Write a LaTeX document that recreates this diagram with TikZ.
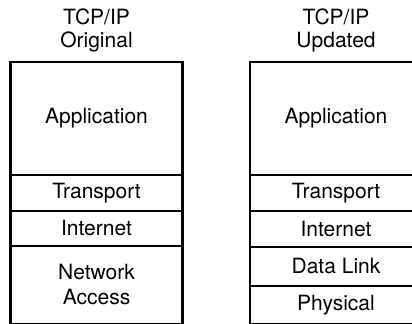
\documentclass[tikz,border=0pt]{standalone}
\usepackage{fontspec}
\setmainfont{TeX Gyre Heros}

\begin{document}
\begin{tikzpicture}[x=0.5pt,y=-0.5pt,
  layer/.style={shape=rectangle,draw=black,line width=1.1pt,outer sep=0pt,inner sep=0pt,
    minimum width=86pt,align=center,font=\fontsize{10.5}{12.5}\selectfont},
  stacktitle/.style={anchor=south,inner sep=0pt,align=center,font=\fontsize{10.5}{11.5}\selectfont}]
\useasboundingbox (0,0) rectangle (412,324);

\node[layer,minimum height=56.5pt] (lapp) at (96.5,118.5) {Application};
\node[layer,minimum height=18pt] (ltrans) at (96.5,193) {Transport};
\node[layer,minimum height=17.5pt] (linet) at (96.5,228.5) {Internet};
\node[layer,minimum height=39pt] (lnet) at (96.5,285) {Network\\Access};

\node[layer,minimum height=56.5pt] (rapp) at (336,118.5) {Application};
\node[layer,minimum height=18pt] (rtrans) at (336,193) {Transport};
\node[layer,minimum height=18pt] (rinet) at (336,229) {Internet};
\node[layer,minimum height=19.5pt] (rlink) at (336,266.5) {Data Link};
\node[layer,minimum height=19pt] (rphys) at (336,305) {Physical};

\node[stacktitle] (ltitle) at (96.5,52.5) {TCP/IP\\Original};
\node[stacktitle] (rtitle) at (336,52.5) {TCP/IP\\Updated};
\end{tikzpicture}
\end{document}
